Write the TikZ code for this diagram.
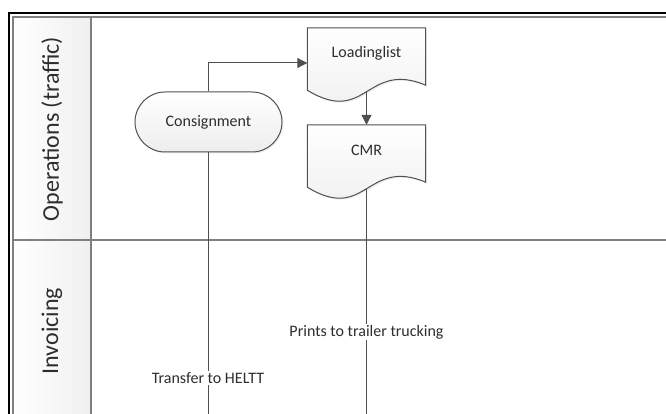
\documentclass[tikz,border=0pt]{standalone}
\usepackage{fontspec}
\setmainfont{Carlito}
\usetikzlibrary{arrows.meta,calc,shadows}
\definecolor{linegray}{HTML}{505050}
\definecolor{framegray}{HTML}{808080}
\definecolor{txt}{HTML}{2E2E2E}
\pgfdeclarelayer{back}
\pgfdeclarelayer{shapes}
\pgfsetlayers{back,shapes,main}

% outline of a flowchart "document" symbol below a text node
\newcommand\docoutline[1]{%
  \path[docfill]
    (#1.north west) -- (#1.north east)
    -- ($(#1.south east)+(0,7)$)
    .. controls ($(#1.south west)+(59,-18)$) and ($(#1.south west)+(59,48)$)
    .. ($(#1.south west)+(0,12)$) -- cycle;}

\begin{document}
\begin{tikzpicture}[x=1pt,y=-1pt,
  every node/.style={font=\fontsize{16}{19}\selectfont, text=txt},
  lanetitle/.style={rotate=90, font=\fontsize{24}{28}\selectfont},
  terminal/.style={draw=linegray, line width=1pt, rounded corners=30pt,
    minimum width=147pt, minimum height=60pt, inner sep=0pt,
    top color=white, bottom color=gray!14,
    drop shadow={opacity=0.12, shadow xshift=1.5pt, shadow yshift=-1.5pt}},
  docbox/.style={minimum width=118pt, minimum height=50pt, inner sep=0pt},
  docfill/.style={draw=linegray, line width=1pt,
    top color=white, bottom color=gray!14,
    drop shadow={opacity=0.12, shadow xshift=1.5pt, shadow yshift=-1.5pt}},
  conn/.style={draw=linegray, line width=1pt},
  arr/.style={conn, -{Triangle[length=10pt,width=10pt]}},
  flowlabel/.style={fill=white, inner sep=1pt}]

\useasboundingbox (0,0) rectangle (666,414);
\coordinate (bot) at (0,414);

% pool frame and lane headers
\begin{pgfonlayer}{back}
  \fill[white] (0,0) rectangle (666,414);
  \fill[left color=white, right color=gray!12] (13,17) rectangle (91,414);
  \draw[black, line width=1.4pt] (9,414) -- (9,13) -- (666,13);
  \draw[framegray, line width=1.4pt] (13,414) -- (13,17) -- (666,17);
  \draw[framegray, line width=1.2pt] (91,17) -- (91,414);
  \draw[framegray, line width=1.4pt] (13,240) -- (666,240);
\end{pgfonlayer}

\node[lanetitle] (lane1) at (52,129) {Operations (traffic)};
\node[lanetitle] (lane2) at (52,331) {Invoicing};

% flow symbols
\node[terminal] (cons) at (208.5,122) {Consignment};
\node[docbox] (load) at (366.5,53) {Loadinglist};
\node[docbox] (cmr) at (366.5,150) {CMR};
\begin{pgfonlayer}{shapes}
  \docoutline{load}
  \docoutline{cmr}
\end{pgfonlayer}

% connectors
\draw[arr] (cons.north) |- ([yshift=-10pt]load.west);
\draw[arr] ([yshift=-13.6pt]load.south) -- (cmr.north);
\draw[conn] (cons.south) -- (cons.south |- bot);
\draw[conn] ([yshift=-13.6pt]cmr.south) -- (cmr.south |- bot);

\node[flowlabel] (heltt) at (208,378) {Transfer to HELTT};
\node[flowlabel] (trailer) at (366.5,332) {Prints to trailer trucking};
\end{tikzpicture}
\end{document}
